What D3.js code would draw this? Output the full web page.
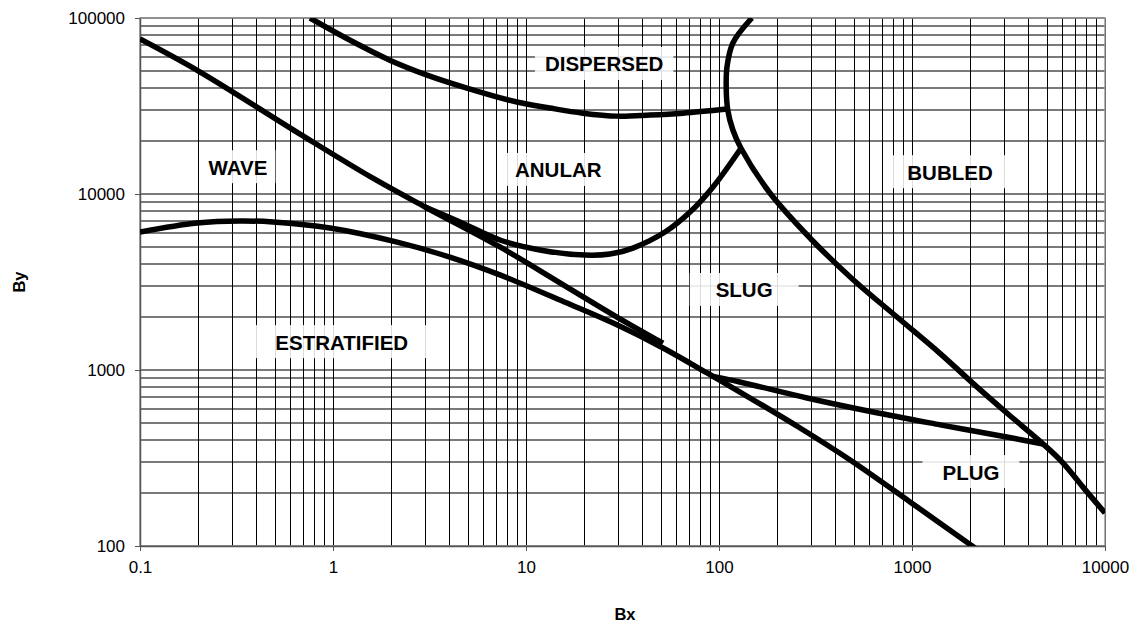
<!DOCTYPE html>
<html>
<head>
<meta charset="utf-8">
<script src="https://cdn.jsdelivr.net/npm/d3@7"></script>
<style>
  html, body { margin: 0; padding: 0; background: #fff; }
  svg { display: block; font-family: "Liberation Sans", Arial, sans-serif; }
</style>
</head>
<body>
<svg id="chart" width="1133" height="625"></svg>
<script>
// ---- Data (Bx, By) ----
const xTickLabels = ["0.1", "1", "10", "100", "1000", "10000"];
const yTickLabels = ["100", "1000", "10000", "100000"];

// Wave / Anular boundary (upper steep line)
const curveWaveAnular = [
  [0.1, 76000], [0.205, 49300], [0.675, 21900], [1.61, 12300], [3.0, 8440],
  [7.33, 5000], [16.3, 2960], [29.6, 2000], [51.3, 1420]
];
// Estratified boundary (lower line)
const curveEstratified = [
  [0.1, 6080], [0.197, 6840], [0.33, 7030], [0.489, 6930], [0.965, 6410],
  [2.15, 5330], [4.03, 4385], [7.33, 3470], [16.3, 2400], [29.6, 1805],
  [51.3, 1334], [86.7, 962], [145, 693], [263, 468], [478, 308],
  [977, 178], [2120, 97.5]
];
// Anular / Slug boundary
const curveAnularSlug = [
  [3.0, 8440], [4.55, 6930], [7.33, 5480], [11.8, 4810], [20.2, 4500],
  [27.2, 4560], [35.8, 4930], [52.5, 6080], [70.8, 7900], [93.1, 10970],
  [130, 18200]
];
// Dispersed boundary
const curveDispersed = [
  [0.76, 100000], [1.22, 75000], [1.97, 57600], [3.07, 47400], [4.94, 40000],
  [8.97, 33300], [13.3, 30800], [19.7, 28800], [29.6, 27700], [43.9, 28100],
  [65, 28800], [110, 30400]
];
// Bubbled boundary
const curveBubbled = [
  [148, 100000], [118, 72100], [110, 52700], [109, 40000], [111, 30000],
  [118, 23100], [130, 18200], [184, 10100], [303, 5480], [494, 3270],
  [836, 2000], [1400, 1240], [2070, 840], [3100, 570], [4780, 380],
  [6050, 297], [7690, 216], [10000, 154]
];
// Slug / Plug boundary
const curveSlugPlug = [
  [93, 920], [128, 855], [286, 693], [628, 577], [1400, 488], [3100, 416], [4780, 380]
];

const regionNames = ["DISPERSED", "WAVE", "ANULAR", "BUBLED", "SLUG", "ESTRATIFIED", "PLUG"];
const regionBx    = [25.4, 0.322, 14.7, 1574, 135, 1.11, 2020];
const regionBy    = [54800, 14200, 13700, 13300, 2850, 1440, 263];

// ---- Layout / style ----
const boxPad = { DISPERSED: 10, WAVE: 8, ANULAR: 12, BUBLED: 18, SLUG: 26, ESTRATIFIED: 40, PLUG: 20 };
const L = 140, R = 1105, T = 18, B = 546;

const svg = d3.select("#chart");
const x = d3.scaleLog().domain([0.1, 10000]).range([L, R]);
const y = d3.scaleLog().domain([100, 100000]).range([B, T]);

function minorValues(lo, hi) {
  const out = [];
  for (let d = lo; d < hi; d *= 10) for (let k = 1; k <= 9; k++) out.push(d * k);
  out.push(hi);
  return out;
}
const xGrid = minorValues(0.1, 10000);
const yGrid = minorValues(100, 100000);

// horizontal grid (gray)
svg.append("g").selectAll("line").data(yGrid).join("line")
  .attr("x1", L).attr("x2", R)
  .attr("y1", d => Math.round(y(d))).attr("y2", d => Math.round(y(d)))
  .attr("stroke", "#7a7a7a").attr("stroke-width", 2);

// vertical grid (black)
svg.append("g").selectAll("line").data(xGrid).join("line")
  .attr("y1", T).attr("y2", B)
  .attr("x1", d => Math.round(x(d)) + 0.5).attr("x2", d => Math.round(x(d)) + 0.5)
  .attr("stroke", "#000").attr("stroke-width", 1);

// frame
svg.append("rect").attr("x", L).attr("y", T).attr("width", R - L).attr("height", B - T)
  .attr("fill", "none").attr("stroke", "#999").attr("stroke-width", 1.5);

// axes
const xAxis = svg.append("g").attr("transform", `translate(0,${B})`)
  .call(d3.axisBottom(x).tickValues(xTickLabels.map(Number)).tickFormat((d, i) => xTickLabels[i]).tickSize(5).tickSizeOuter(0));
const yAxis = svg.append("g").attr("transform", `translate(${L},0)`)
  .call(d3.axisLeft(y).tickValues(yTickLabels.map(Number)).tickFormat((d, i) => yTickLabels[i]).tickSize(5).tickSizeOuter(0));
[xAxis, yAxis].forEach(g => {
  g.select(".domain").attr("stroke", "#555").attr("stroke-width", 1.5);
  g.selectAll(".tick line").attr("stroke", "#555");
  g.selectAll("text").attr("font-size", 17).attr("fill", "#000")
    .attr("font-family", '"Liberation Sans", Arial, sans-serif');
});
xAxis.selectAll("text").attr("dy", null).attr("y", 27);
yAxis.selectAll("text").attr("x", -15);

// axis titles
svg.append("text").attr("x", 625).attr("y", 620).attr("text-anchor", "middle")
  .attr("font-size", 16.5).attr("font-weight", "bold").text("Bx");
svg.append("text").attr("transform", "translate(25,282) rotate(-90)").attr("text-anchor", "middle")
  .attr("font-size", 16.5).attr("font-weight", "bold").text("By");

// region label boxes
const labelG = svg.append("g");
regionNames.forEach((name, i) => {
  const cx = x(regionBx[i]), cy = y(regionBy[i]);
  const t = labelG.append("text").attr("x", cx).attr("y", cy + 7.5)
    .attr("text-anchor", "middle").attr("font-size", 20.5).attr("font-weight", "bold").text(name);
  const w = t.node().getComputedTextLength() + 2 * boxPad[name];
  labelG.insert("rect", "text").attr("x", cx - w / 2).attr("y", cy - 17).attr("width", w).attr("height", 33)
    .attr("fill", "#fff").attr("fill-opacity", 0.86);
});

// curves
svg.append("clipPath").attr("id", "plotClip").append("rect")
  .attr("x", L).attr("y", T).attr("width", R - L).attr("height", B - T);
const line = d3.line().x(d => x(d[0])).y(d => y(d[1])).curve(d3.curveCatmullRom.alpha(0.5));
const curves = [curveWaveAnular, curveEstratified, curveAnularSlug, curveDispersed, curveBubbled, curveSlugPlug];
const curveG = svg.append("g").attr("clip-path", "url(#plotClip)");
curves.forEach(c => curveG.append("path").attr("d", line(c))
  .attr("fill", "none").attr("stroke", "#000").attr("stroke-width", 5.5).attr("stroke-linejoin", "round"));
labelG.raise();
</script>
</body>
</html>
